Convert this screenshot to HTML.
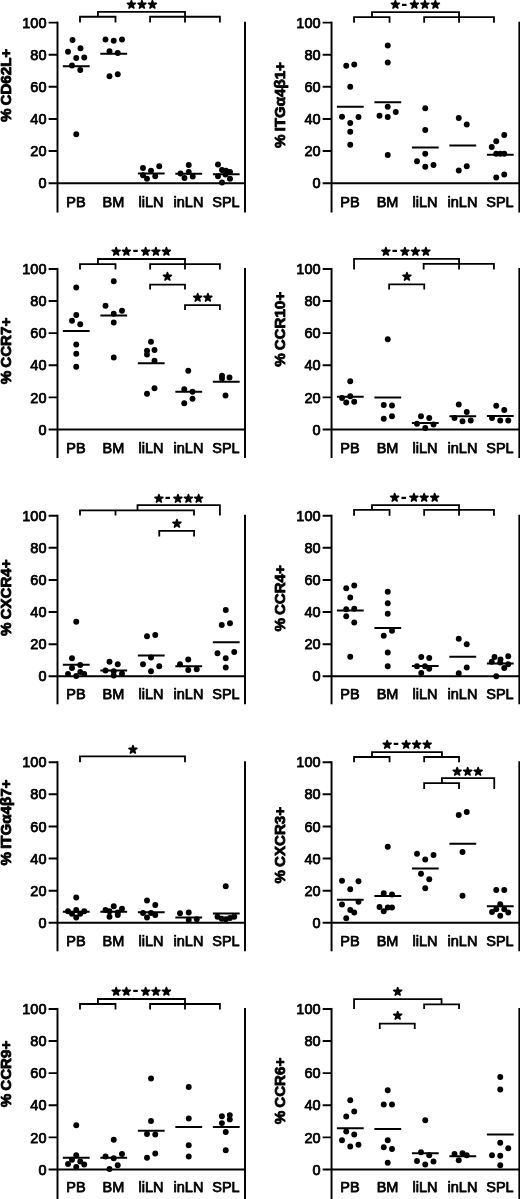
<!DOCTYPE html>
<html lang="en"><head><meta charset="utf-8"><title>Homing receptor expression</title>
<style>
html,body{margin:0;padding:0;background:#fff}
body{width:520px;height:1199px;overflow:hidden}
svg{display:block}
.st{font-family:"DejaVu Sans",sans-serif;font-size:10.4px;stroke:#000;stroke-width:1.6px;stroke-linejoin:round}
.hy{font-family:"Liberation Sans",sans-serif;font-size:18px;font-weight:bold;stroke:none}
.t{stroke:#000;stroke-width:0.75px;stroke-linejoin:round}
.b{stroke:#000;stroke-width:0.85px;stroke-linejoin:round}
</style></head><body>
<svg width="520" height="1199" viewBox="0 0 520 1199">
<rect width="520" height="1199" fill="#fff"/>
<g font-family="'Liberation Sans', Arial, sans-serif" fill="#000">
<g stroke="#000" stroke-width="1.95" fill="none" stroke-linecap="butt">
<path d="M57.50 21.63V212.50"/>
<path d="M245.00 21.63V212.50"/>
<path d="M48.60 183.20H245.00"/>
<path d="M48.60 22.60H57.50M48.60 54.72H57.50M48.60 86.84H57.50M48.60 118.96H57.50M48.60 151.08H57.50"/>
</g>
<text x="46.50" y="27.75" class="t" font-size="14.5" text-anchor="end">100</text>
<text x="46.50" y="59.87" class="t" font-size="14.5" text-anchor="end">80</text>
<text x="46.50" y="91.99" class="t" font-size="14.5" text-anchor="end">60</text>
<text x="46.50" y="124.11" class="t" font-size="14.5" text-anchor="end">40</text>
<text x="46.50" y="156.23" class="t" font-size="14.5" text-anchor="end">20</text>
<text x="46.50" y="188.35" class="t" font-size="14.5" text-anchor="end">0</text>
<text x="75.95" y="207.00" class="t" font-size="14.5" text-anchor="middle">PB</text>
<text x="113.45" y="207.00" class="t" font-size="14.5" text-anchor="middle">BM</text>
<text x="150.95" y="207.00" class="t" font-size="14.5" text-anchor="middle">liLN</text>
<text x="188.45" y="207.00" class="t" font-size="14.5" text-anchor="middle">inLN</text>
<text x="225.95" y="207.00" class="t" font-size="14.5" text-anchor="middle">SPL</text>
<text transform="translate(11.20 85.40) rotate(-90)" class="b" font-size="15.1" font-weight="bold" word-spacing="-1.1" text-anchor="middle">% CD62L+</text>
<path d="M62.85 66.25h26.8M100.35 53.75h26.8M137.85 173.50h26.8M175.35 173.75h26.8M212.85 174.25h26.8" stroke="#000" stroke-width="1.95" fill="none"/>
<circle cx="72.50" cy="40.00" r="2.95"/>
<circle cx="80.50" cy="48.25" r="2.95"/>
<circle cx="68.00" cy="51.75" r="2.95"/>
<circle cx="76.25" cy="58.00" r="2.95"/>
<circle cx="84.25" cy="57.50" r="2.95"/>
<circle cx="72.00" cy="65.50" r="2.95"/>
<circle cx="80.25" cy="70.00" r="2.95"/>
<circle cx="76.25" cy="134.25" r="2.95"/>
<circle cx="105.50" cy="39.50" r="2.95"/>
<circle cx="113.75" cy="40.75" r="2.95"/>
<circle cx="122.00" cy="39.50" r="2.95"/>
<circle cx="109.50" cy="51.25" r="2.95"/>
<circle cx="117.75" cy="53.00" r="2.95"/>
<circle cx="109.50" cy="76.25" r="2.95"/>
<circle cx="117.75" cy="74.25" r="2.95"/>
<circle cx="143.00" cy="168.00" r="2.95"/>
<circle cx="159.25" cy="166.25" r="2.95"/>
<circle cx="151.00" cy="170.75" r="2.95"/>
<circle cx="143.00" cy="175.25" r="2.95"/>
<circle cx="155.25" cy="176.25" r="2.95"/>
<circle cx="147.00" cy="178.75" r="2.95"/>
<circle cx="188.75" cy="165.00" r="2.95"/>
<circle cx="180.50" cy="173.50" r="2.95"/>
<circle cx="192.75" cy="176.50" r="2.95"/>
<circle cx="184.50" cy="178.00" r="2.95"/>
<circle cx="188.75" cy="172.00" r="2.95"/>
<circle cx="218.00" cy="164.50" r="2.95"/>
<circle cx="222.00" cy="170.00" r="2.95"/>
<circle cx="226.00" cy="170.75" r="2.95"/>
<circle cx="230.00" cy="172.00" r="2.95"/>
<circle cx="218.00" cy="176.25" r="2.95"/>
<circle cx="230.00" cy="178.75" r="2.95"/>
<circle cx="222.00" cy="182.50" r="2.95"/>
<circle cx="225.50" cy="174.50" r="2.95"/>
<path d="M80.00 22.50L80.00 16.75L115.50 16.75L115.50 22.50M150.10 22.50L150.10 16.75L219.90 16.75L219.90 22.50M97.95 16.75L97.95 11.80L185.00 11.80L185.00 22.50" stroke="#000" stroke-width="1.8" fill="none" stroke-linejoin="miter" stroke-linecap="butt"/>
<text class="st"><tspan x="126.77" y="8.30">★</tspan><tspan x="137.22" y="8.30">★</tspan><tspan x="147.67" y="8.30">★</tspan></text>
<g stroke="#000" stroke-width="1.95" fill="none" stroke-linecap="butt">
<path d="M331.55 21.63V212.50"/>
<path d="M519.35 21.63V212.50"/>
<path d="M322.65 183.20H519.35"/>
<path d="M322.65 22.60H331.55M322.65 54.72H331.55M322.65 86.84H331.55M322.65 118.96H331.55M322.65 151.08H331.55"/>
</g>
<text x="320.55" y="27.75" class="t" font-size="14.5" text-anchor="end">100</text>
<text x="320.55" y="59.87" class="t" font-size="14.5" text-anchor="end">80</text>
<text x="320.55" y="91.99" class="t" font-size="14.5" text-anchor="end">60</text>
<text x="320.55" y="124.11" class="t" font-size="14.5" text-anchor="end">40</text>
<text x="320.55" y="156.23" class="t" font-size="14.5" text-anchor="end">20</text>
<text x="320.55" y="188.35" class="t" font-size="14.5" text-anchor="end">0</text>
<text x="350.00" y="207.00" class="t" font-size="14.5" text-anchor="middle">PB</text>
<text x="387.50" y="207.00" class="t" font-size="14.5" text-anchor="middle">BM</text>
<text x="425.00" y="207.00" class="t" font-size="14.5" text-anchor="middle">liLN</text>
<text x="462.50" y="207.00" class="t" font-size="14.5" text-anchor="middle">inLN</text>
<text x="500.00" y="207.00" class="t" font-size="14.5" text-anchor="middle">SPL</text>
<text transform="translate(284.65 105.00) rotate(-90)" class="b" font-size="15.1" font-weight="bold" word-spacing="-1.1" text-anchor="middle">% ITGα4β1+</text>
<path d="M336.90 106.75h26.8M374.40 102.25h26.8M411.90 147.50h26.8M449.40 145.50h26.8M486.90 154.75h26.8" stroke="#000" stroke-width="1.95" fill="none"/>
<circle cx="346.25" cy="65.75" r="2.95"/>
<circle cx="354.25" cy="64.50" r="2.95"/>
<circle cx="350.25" cy="86.75" r="2.95"/>
<circle cx="342.00" cy="116.75" r="2.95"/>
<circle cx="358.50" cy="117.00" r="2.95"/>
<circle cx="350.25" cy="123.00" r="2.95"/>
<circle cx="350.25" cy="131.75" r="2.95"/>
<circle cx="350.25" cy="144.75" r="2.95"/>
<circle cx="387.75" cy="45.50" r="2.95"/>
<circle cx="387.75" cy="62.50" r="2.95"/>
<circle cx="387.75" cy="106.75" r="2.95"/>
<circle cx="379.50" cy="115.75" r="2.95"/>
<circle cx="387.75" cy="117.00" r="2.95"/>
<circle cx="395.75" cy="112.00" r="2.95"/>
<circle cx="387.75" cy="155.00" r="2.95"/>
<circle cx="425.25" cy="108.25" r="2.95"/>
<circle cx="425.25" cy="130.00" r="2.95"/>
<circle cx="425.25" cy="153.75" r="2.95"/>
<circle cx="417.00" cy="161.25" r="2.95"/>
<circle cx="425.25" cy="166.75" r="2.95"/>
<circle cx="433.50" cy="165.00" r="2.95"/>
<circle cx="458.75" cy="118.00" r="2.95"/>
<circle cx="466.75" cy="124.50" r="2.95"/>
<circle cx="458.75" cy="170.50" r="2.95"/>
<circle cx="466.75" cy="166.25" r="2.95"/>
<circle cx="504.25" cy="135.00" r="2.95"/>
<circle cx="496.25" cy="141.25" r="2.95"/>
<circle cx="491.75" cy="147.00" r="2.95"/>
<circle cx="496.25" cy="153.75" r="2.95"/>
<circle cx="500.25" cy="153.75" r="2.95"/>
<circle cx="504.25" cy="153.75" r="2.95"/>
<circle cx="496.25" cy="177.50" r="2.95"/>
<circle cx="504.25" cy="174.50" r="2.95"/>
<path d="M354.05 22.75L354.05 17.10L389.55 17.10L389.55 22.75M424.15 22.75L424.15 17.10L493.95 17.10L493.95 22.75M372.00 17.10L372.00 12.20L459.05 12.20L459.05 22.75" stroke="#000" stroke-width="1.8" fill="none" stroke-linejoin="miter" stroke-linecap="butt"/>
<text class="st"><tspan x="390.69" y="8.30">★</tspan><tspan class="hy" x="401.30" y="9.50">-</tspan><tspan x="409.75" y="8.30">★</tspan><tspan x="420.19" y="8.30">★</tspan><tspan x="430.64" y="8.30">★</tspan></text>
<g stroke="#000" stroke-width="1.95" fill="none" stroke-linecap="butt">
<path d="M57.50 267.93V458.00"/>
<path d="M245.00 267.93V458.00"/>
<path d="M48.60 429.50H245.00"/>
<path d="M48.60 268.90H57.50M48.60 301.02H57.50M48.60 333.14H57.50M48.60 365.26H57.50M48.60 397.38H57.50"/>
</g>
<text x="46.50" y="274.05" class="t" font-size="14.5" text-anchor="end">100</text>
<text x="46.50" y="306.17" class="t" font-size="14.5" text-anchor="end">80</text>
<text x="46.50" y="338.29" class="t" font-size="14.5" text-anchor="end">60</text>
<text x="46.50" y="370.41" class="t" font-size="14.5" text-anchor="end">40</text>
<text x="46.50" y="402.53" class="t" font-size="14.5" text-anchor="end">20</text>
<text x="46.50" y="434.65" class="t" font-size="14.5" text-anchor="end">0</text>
<text x="75.95" y="452.60" class="t" font-size="14.5" text-anchor="middle">PB</text>
<text x="113.45" y="452.60" class="t" font-size="14.5" text-anchor="middle">BM</text>
<text x="150.95" y="452.60" class="t" font-size="14.5" text-anchor="middle">liLN</text>
<text x="188.45" y="452.60" class="t" font-size="14.5" text-anchor="middle">inLN</text>
<text x="225.95" y="452.60" class="t" font-size="14.5" text-anchor="middle">SPL</text>
<text transform="translate(11.20 351.00) rotate(-90)" class="b" font-size="15.1" font-weight="bold" word-spacing="-1.1" text-anchor="middle">% CCR7+</text>
<path d="M62.85 331.00h26.8M100.35 315.50h26.8M137.85 363.25h26.8M175.35 391.75h26.8M212.85 381.75h26.8" stroke="#000" stroke-width="1.95" fill="none"/>
<circle cx="76.25" cy="287.50" r="2.95"/>
<circle cx="76.25" cy="315.00" r="2.95"/>
<circle cx="72.00" cy="320.75" r="2.95"/>
<circle cx="80.25" cy="324.25" r="2.95"/>
<circle cx="76.25" cy="344.50" r="2.95"/>
<circle cx="76.25" cy="353.75" r="2.95"/>
<circle cx="76.25" cy="366.75" r="2.95"/>
<circle cx="113.75" cy="281.25" r="2.95"/>
<circle cx="105.50" cy="305.75" r="2.95"/>
<circle cx="122.00" cy="310.75" r="2.95"/>
<circle cx="113.75" cy="313.75" r="2.95"/>
<circle cx="113.75" cy="322.50" r="2.95"/>
<circle cx="113.75" cy="357.50" r="2.95"/>
<circle cx="151.00" cy="341.75" r="2.95"/>
<circle cx="147.00" cy="350.75" r="2.95"/>
<circle cx="154.50" cy="350.00" r="2.95"/>
<circle cx="147.00" cy="354.50" r="2.95"/>
<circle cx="154.50" cy="360.75" r="2.95"/>
<circle cx="154.50" cy="388.25" r="2.95"/>
<circle cx="147.00" cy="393.75" r="2.95"/>
<circle cx="188.25" cy="370.75" r="2.95"/>
<circle cx="184.25" cy="389.25" r="2.95"/>
<circle cx="192.50" cy="391.75" r="2.95"/>
<circle cx="192.50" cy="398.75" r="2.95"/>
<circle cx="184.25" cy="403.25" r="2.95"/>
<circle cx="222.00" cy="375.75" r="2.95"/>
<circle cx="229.50" cy="377.50" r="2.95"/>
<circle cx="222.00" cy="378.50" r="2.95"/>
<circle cx="225.50" cy="395.50" r="2.95"/>
<path d="M80.00 269.40L80.00 264.10L115.50 264.10L115.50 269.40M150.10 269.40L150.10 264.10L219.90 264.10L219.90 269.40M97.95 264.10L97.95 259.00L185.00 259.00L185.00 269.40M150.10 289.50L150.10 284.60L185.00 284.60L185.00 289.50M185.00 310.10L185.00 305.10L219.90 305.10L219.90 310.10" stroke="#000" stroke-width="1.8" fill="none" stroke-linejoin="miter" stroke-linecap="butt"/>
<text class="st"><tspan x="111.42" y="254.60">★</tspan><tspan x="121.87" y="254.60">★</tspan><tspan class="hy" x="132.48" y="255.80">-</tspan><tspan x="140.92" y="254.60">★</tspan><tspan x="151.37" y="254.60">★</tspan><tspan x="161.82" y="254.60">★</tspan></text>
<text class="st"><tspan x="162.82" y="280.00">★</tspan></text>
<text class="st"><tspan x="192.90" y="300.80">★</tspan><tspan x="203.35" y="300.80">★</tspan></text>
<g stroke="#000" stroke-width="1.95" fill="none" stroke-linecap="butt">
<path d="M331.55 267.93V458.00"/>
<path d="M519.35 267.93V458.00"/>
<path d="M322.65 429.50H519.35"/>
<path d="M322.65 268.90H331.55M322.65 301.02H331.55M322.65 333.14H331.55M322.65 365.26H331.55M322.65 397.38H331.55"/>
</g>
<text x="320.55" y="274.05" class="t" font-size="14.5" text-anchor="end">100</text>
<text x="320.55" y="306.17" class="t" font-size="14.5" text-anchor="end">80</text>
<text x="320.55" y="338.29" class="t" font-size="14.5" text-anchor="end">60</text>
<text x="320.55" y="370.41" class="t" font-size="14.5" text-anchor="end">40</text>
<text x="320.55" y="402.53" class="t" font-size="14.5" text-anchor="end">20</text>
<text x="320.55" y="434.65" class="t" font-size="14.5" text-anchor="end">0</text>
<text x="350.00" y="452.60" class="t" font-size="14.5" text-anchor="middle">PB</text>
<text x="387.50" y="452.60" class="t" font-size="14.5" text-anchor="middle">BM</text>
<text x="425.00" y="452.60" class="t" font-size="14.5" text-anchor="middle">liLN</text>
<text x="462.50" y="452.60" class="t" font-size="14.5" text-anchor="middle">inLN</text>
<text x="500.00" y="452.60" class="t" font-size="14.5" text-anchor="middle">SPL</text>
<text transform="translate(284.65 329.40) rotate(-90)" class="b" font-size="15.1" font-weight="bold" word-spacing="-1.1" text-anchor="middle">% CCR10+</text>
<path d="M336.90 396.75h26.8M374.40 397.50h26.8M411.90 423.00h26.8M449.40 416.25h26.8M486.90 416.00h26.8" stroke="#000" stroke-width="1.95" fill="none"/>
<circle cx="350.25" cy="381.25" r="2.95"/>
<circle cx="350.25" cy="396.25" r="2.95"/>
<circle cx="342.00" cy="398.00" r="2.95"/>
<circle cx="354.25" cy="401.75" r="2.95"/>
<circle cx="346.25" cy="402.50" r="2.95"/>
<circle cx="387.75" cy="339.25" r="2.95"/>
<circle cx="383.75" cy="405.00" r="2.95"/>
<circle cx="392.00" cy="405.50" r="2.95"/>
<circle cx="392.00" cy="416.25" r="2.95"/>
<circle cx="383.75" cy="418.75" r="2.95"/>
<circle cx="421.00" cy="416.25" r="2.95"/>
<circle cx="429.25" cy="418.00" r="2.95"/>
<circle cx="417.00" cy="423.75" r="2.95"/>
<circle cx="433.50" cy="424.50" r="2.95"/>
<circle cx="425.25" cy="428.00" r="2.95"/>
<circle cx="458.75" cy="404.50" r="2.95"/>
<circle cx="466.75" cy="412.00" r="2.95"/>
<circle cx="454.50" cy="418.00" r="2.95"/>
<circle cx="462.50" cy="421.25" r="2.95"/>
<circle cx="470.75" cy="420.50" r="2.95"/>
<circle cx="496.25" cy="405.75" r="2.95"/>
<circle cx="504.25" cy="410.00" r="2.95"/>
<circle cx="492.00" cy="418.00" r="2.95"/>
<circle cx="500.25" cy="420.50" r="2.95"/>
<circle cx="508.25" cy="420.50" r="2.95"/>
<path d="M354.05 269.40L354.05 258.80L459.05 258.80L459.05 269.40M423.65 269.40L423.65 263.80L493.95 263.80L493.95 269.40M389.15 289.50L389.15 284.40L424.25 284.40L424.25 289.50" stroke="#000" stroke-width="1.8" fill="none" stroke-linejoin="miter" stroke-linecap="butt"/>
<text class="st"><tspan x="381.19" y="254.60">★</tspan><tspan class="hy" x="391.80" y="255.80">-</tspan><tspan x="400.25" y="254.60">★</tspan><tspan x="410.69" y="254.60">★</tspan><tspan x="421.14" y="254.60">★</tspan></text>
<text class="st"><tspan x="402.27" y="280.00">★</tspan></text>
<g stroke="#000" stroke-width="1.95" fill="none" stroke-linecap="butt">
<path d="M57.50 514.73V704.30"/>
<path d="M245.00 514.73V704.30"/>
<path d="M48.60 676.30H245.00"/>
<path d="M48.60 515.70H57.50M48.60 547.82H57.50M48.60 579.94H57.50M48.60 612.06H57.50M48.60 644.18H57.50"/>
</g>
<text x="46.50" y="520.85" class="t" font-size="14.5" text-anchor="end">100</text>
<text x="46.50" y="552.97" class="t" font-size="14.5" text-anchor="end">80</text>
<text x="46.50" y="585.09" class="t" font-size="14.5" text-anchor="end">60</text>
<text x="46.50" y="617.21" class="t" font-size="14.5" text-anchor="end">40</text>
<text x="46.50" y="649.33" class="t" font-size="14.5" text-anchor="end">20</text>
<text x="46.50" y="681.45" class="t" font-size="14.5" text-anchor="end">0</text>
<text x="75.95" y="699.40" class="t" font-size="14.5" text-anchor="middle">PB</text>
<text x="113.45" y="699.40" class="t" font-size="14.5" text-anchor="middle">BM</text>
<text x="150.95" y="699.40" class="t" font-size="14.5" text-anchor="middle">liLN</text>
<text x="188.45" y="699.40" class="t" font-size="14.5" text-anchor="middle">inLN</text>
<text x="225.95" y="699.40" class="t" font-size="14.5" text-anchor="middle">SPL</text>
<text transform="translate(11.20 597.75) rotate(-90)" class="b" font-size="15.1" font-weight="bold" word-spacing="-1.1" text-anchor="middle">% CXCR4+</text>
<path d="M62.85 664.75h26.8M100.35 670.50h26.8M137.85 655.50h26.8M175.35 666.25h26.8M212.85 642.25h26.8" stroke="#000" stroke-width="1.95" fill="none"/>
<circle cx="76.25" cy="621.75" r="2.95"/>
<circle cx="72.00" cy="658.25" r="2.95"/>
<circle cx="80.25" cy="665.00" r="2.95"/>
<circle cx="72.00" cy="668.00" r="2.95"/>
<circle cx="68.00" cy="674.00" r="2.95"/>
<circle cx="76.25" cy="676.00" r="2.95"/>
<circle cx="84.25" cy="674.00" r="2.95"/>
<circle cx="80.25" cy="672.00" r="2.95"/>
<circle cx="109.50" cy="661.75" r="2.95"/>
<circle cx="117.75" cy="664.25" r="2.95"/>
<circle cx="105.50" cy="670.50" r="2.95"/>
<circle cx="113.75" cy="671.25" r="2.95"/>
<circle cx="122.00" cy="673.75" r="2.95"/>
<circle cx="113.75" cy="675.50" r="2.95"/>
<circle cx="147.00" cy="636.25" r="2.95"/>
<circle cx="155.25" cy="635.00" r="2.95"/>
<circle cx="151.00" cy="657.50" r="2.95"/>
<circle cx="143.00" cy="664.25" r="2.95"/>
<circle cx="159.25" cy="666.25" r="2.95"/>
<circle cx="151.00" cy="671.25" r="2.95"/>
<circle cx="180.00" cy="664.25" r="2.95"/>
<circle cx="188.25" cy="659.50" r="2.95"/>
<circle cx="188.25" cy="670.00" r="2.95"/>
<circle cx="196.75" cy="669.25" r="2.95"/>
<circle cx="225.75" cy="610.00" r="2.95"/>
<circle cx="221.75" cy="625.00" r="2.95"/>
<circle cx="230.00" cy="623.25" r="2.95"/>
<circle cx="217.50" cy="653.25" r="2.95"/>
<circle cx="234.25" cy="652.00" r="2.95"/>
<circle cx="225.75" cy="658.25" r="2.95"/>
<circle cx="225.75" cy="667.50" r="2.95"/>
<path d="M80.00 515.45L80.00 510.35L194.00 510.35L194.00 515.45M115.50 515.45L115.50 510.35M137.50 510.35L137.50 505.20L219.90 505.20L219.90 515.45M159.25 536.45L159.25 530.90L194.10 530.90L194.10 536.45" stroke="#000" stroke-width="1.8" fill="none" stroke-linejoin="miter" stroke-linecap="butt"/>
<text class="st"><tspan x="154.15" y="501.60">★</tspan><tspan class="hy" x="164.76" y="502.80">-</tspan><tspan x="173.20" y="501.60">★</tspan><tspan x="183.65" y="501.60">★</tspan><tspan x="194.09" y="501.60">★</tspan></text>
<text class="st"><tspan x="172.22" y="526.80">★</tspan></text>
<g stroke="#000" stroke-width="1.95" fill="none" stroke-linecap="butt">
<path d="M331.55 514.73V704.30"/>
<path d="M519.35 514.73V704.30"/>
<path d="M322.65 676.30H519.35"/>
<path d="M322.65 515.70H331.55M322.65 547.82H331.55M322.65 579.94H331.55M322.65 612.06H331.55M322.65 644.18H331.55"/>
</g>
<text x="320.55" y="520.85" class="t" font-size="14.5" text-anchor="end">100</text>
<text x="320.55" y="552.97" class="t" font-size="14.5" text-anchor="end">80</text>
<text x="320.55" y="585.09" class="t" font-size="14.5" text-anchor="end">60</text>
<text x="320.55" y="617.21" class="t" font-size="14.5" text-anchor="end">40</text>
<text x="320.55" y="649.33" class="t" font-size="14.5" text-anchor="end">20</text>
<text x="320.55" y="681.45" class="t" font-size="14.5" text-anchor="end">0</text>
<text x="350.00" y="699.40" class="t" font-size="14.5" text-anchor="middle">PB</text>
<text x="387.50" y="699.40" class="t" font-size="14.5" text-anchor="middle">BM</text>
<text x="425.00" y="699.40" class="t" font-size="14.5" text-anchor="middle">liLN</text>
<text x="462.50" y="699.40" class="t" font-size="14.5" text-anchor="middle">inLN</text>
<text x="500.00" y="699.40" class="t" font-size="14.5" text-anchor="middle">SPL</text>
<text transform="translate(284.65 598.40) rotate(-90)" class="b" font-size="15.1" font-weight="bold" word-spacing="-1.1" text-anchor="middle">% CCR4+</text>
<path d="M336.90 610.50h26.8M374.40 628.00h26.8M411.90 666.00h26.8M449.40 656.75h26.8M486.90 663.50h26.8" stroke="#000" stroke-width="1.95" fill="none"/>
<circle cx="346.25" cy="588.25" r="2.95"/>
<circle cx="354.25" cy="585.50" r="2.95"/>
<circle cx="350.25" cy="597.50" r="2.95"/>
<circle cx="346.25" cy="609.25" r="2.95"/>
<circle cx="354.25" cy="608.75" r="2.95"/>
<circle cx="346.25" cy="616.25" r="2.95"/>
<circle cx="354.25" cy="622.50" r="2.95"/>
<circle cx="350.25" cy="656.75" r="2.95"/>
<circle cx="387.75" cy="591.75" r="2.95"/>
<circle cx="387.75" cy="603.25" r="2.95"/>
<circle cx="387.75" cy="613.75" r="2.95"/>
<circle cx="392.00" cy="630.75" r="2.95"/>
<circle cx="383.75" cy="635.75" r="2.95"/>
<circle cx="387.75" cy="652.50" r="2.95"/>
<circle cx="387.75" cy="666.25" r="2.95"/>
<circle cx="421.25" cy="657.00" r="2.95"/>
<circle cx="429.25" cy="658.00" r="2.95"/>
<circle cx="417.00" cy="666.25" r="2.95"/>
<circle cx="429.25" cy="668.75" r="2.95"/>
<circle cx="421.25" cy="673.00" r="2.95"/>
<circle cx="425.00" cy="666.25" r="2.95"/>
<circle cx="458.75" cy="638.75" r="2.95"/>
<circle cx="466.75" cy="644.25" r="2.95"/>
<circle cx="466.75" cy="667.50" r="2.95"/>
<circle cx="458.75" cy="673.25" r="2.95"/>
<circle cx="494.50" cy="657.00" r="2.95"/>
<circle cx="508.25" cy="656.25" r="2.95"/>
<circle cx="491.75" cy="661.75" r="2.95"/>
<circle cx="500.25" cy="662.50" r="2.95"/>
<circle cx="508.25" cy="664.25" r="2.95"/>
<circle cx="504.25" cy="668.00" r="2.95"/>
<circle cx="496.25" cy="676.25" r="2.95"/>
<circle cx="500.50" cy="659.50" r="2.95"/>
<path d="M354.05 515.70L354.05 509.95L389.55 509.95L389.55 515.70M424.15 515.70L424.15 509.95L493.95 509.95L493.95 515.70M372.00 509.95L372.00 505.10L459.05 505.10L459.05 515.70" stroke="#000" stroke-width="1.8" fill="none" stroke-linejoin="miter" stroke-linecap="butt"/>
<text class="st"><tspan x="390.09" y="501.40">★</tspan><tspan class="hy" x="400.70" y="502.60">-</tspan><tspan x="409.14" y="501.40">★</tspan><tspan x="419.59" y="501.40">★</tspan><tspan x="430.04" y="501.40">★</tspan></text>
<g stroke="#000" stroke-width="1.95" fill="none" stroke-linecap="butt">
<path d="M57.50 761.23V951.30"/>
<path d="M245.00 761.23V951.30"/>
<path d="M48.60 922.80H245.00"/>
<path d="M48.60 762.20H57.50M48.60 794.32H57.50M48.60 826.44H57.50M48.60 858.56H57.50M48.60 890.68H57.50"/>
</g>
<text x="46.50" y="767.35" class="t" font-size="14.5" text-anchor="end">100</text>
<text x="46.50" y="799.47" class="t" font-size="14.5" text-anchor="end">80</text>
<text x="46.50" y="831.59" class="t" font-size="14.5" text-anchor="end">60</text>
<text x="46.50" y="863.71" class="t" font-size="14.5" text-anchor="end">40</text>
<text x="46.50" y="895.83" class="t" font-size="14.5" text-anchor="end">20</text>
<text x="46.50" y="927.95" class="t" font-size="14.5" text-anchor="end">0</text>
<text x="75.95" y="945.90" class="t" font-size="14.5" text-anchor="middle">PB</text>
<text x="113.45" y="945.90" class="t" font-size="14.5" text-anchor="middle">BM</text>
<text x="150.95" y="945.90" class="t" font-size="14.5" text-anchor="middle">liLN</text>
<text x="188.45" y="945.90" class="t" font-size="14.5" text-anchor="middle">inLN</text>
<text x="225.95" y="945.90" class="t" font-size="14.5" text-anchor="middle">SPL</text>
<text transform="translate(11.20 822.50) rotate(-90)" class="b" font-size="15.1" font-weight="bold" word-spacing="-1.1" text-anchor="middle">% ITGα4β7+</text>
<path d="M62.85 911.75h26.8M100.35 911.75h26.8M137.85 912.25h26.8M175.35 917.50h26.8M212.85 913.50h26.8" stroke="#000" stroke-width="1.95" fill="none"/>
<circle cx="76.25" cy="897.50" r="2.95"/>
<circle cx="68.00" cy="911.25" r="2.95"/>
<circle cx="76.25" cy="910.00" r="2.95"/>
<circle cx="84.25" cy="911.25" r="2.95"/>
<circle cx="72.00" cy="913.75" r="2.95"/>
<circle cx="80.25" cy="913.75" r="2.95"/>
<circle cx="76.25" cy="917.50" r="2.95"/>
<circle cx="113.75" cy="906.25" r="2.95"/>
<circle cx="105.50" cy="910.00" r="2.95"/>
<circle cx="122.00" cy="908.75" r="2.95"/>
<circle cx="109.50" cy="911.25" r="2.95"/>
<circle cx="117.75" cy="912.50" r="2.95"/>
<circle cx="109.50" cy="916.75" r="2.95"/>
<circle cx="117.75" cy="915.00" r="2.95"/>
<circle cx="147.00" cy="900.50" r="2.95"/>
<circle cx="155.25" cy="905.00" r="2.95"/>
<circle cx="143.00" cy="913.00" r="2.95"/>
<circle cx="151.00" cy="913.00" r="2.95"/>
<circle cx="155.25" cy="915.00" r="2.95"/>
<circle cx="147.00" cy="917.50" r="2.95"/>
<circle cx="180.00" cy="913.25" r="2.95"/>
<circle cx="188.75" cy="912.50" r="2.95"/>
<circle cx="188.75" cy="920.00" r="2.95"/>
<circle cx="196.75" cy="919.25" r="2.95"/>
<circle cx="225.75" cy="886.25" r="2.95"/>
<circle cx="217.50" cy="916.75" r="2.95"/>
<circle cx="221.75" cy="918.75" r="2.95"/>
<circle cx="225.75" cy="919.25" r="2.95"/>
<circle cx="230.00" cy="918.00" r="2.95"/>
<circle cx="234.25" cy="916.75" r="2.95"/>
<path d="M80.00 762.20L80.00 756.30L185.00 756.30L185.00 762.20" stroke="#000" stroke-width="1.8" fill="none" stroke-linejoin="miter" stroke-linecap="butt"/>
<text class="st"><tspan x="128.32" y="752.80">★</tspan></text>
<g stroke="#000" stroke-width="1.95" fill="none" stroke-linecap="butt">
<path d="M331.55 761.23V951.30"/>
<path d="M519.35 761.23V951.30"/>
<path d="M322.65 922.80H519.35"/>
<path d="M322.65 762.20H331.55M322.65 794.32H331.55M322.65 826.44H331.55M322.65 858.56H331.55M322.65 890.68H331.55"/>
</g>
<text x="320.55" y="767.35" class="t" font-size="14.5" text-anchor="end">100</text>
<text x="320.55" y="799.47" class="t" font-size="14.5" text-anchor="end">80</text>
<text x="320.55" y="831.59" class="t" font-size="14.5" text-anchor="end">60</text>
<text x="320.55" y="863.71" class="t" font-size="14.5" text-anchor="end">40</text>
<text x="320.55" y="895.83" class="t" font-size="14.5" text-anchor="end">20</text>
<text x="320.55" y="927.95" class="t" font-size="14.5" text-anchor="end">0</text>
<text x="350.00" y="945.90" class="t" font-size="14.5" text-anchor="middle">PB</text>
<text x="387.50" y="945.90" class="t" font-size="14.5" text-anchor="middle">BM</text>
<text x="425.00" y="945.90" class="t" font-size="14.5" text-anchor="middle">liLN</text>
<text x="462.50" y="945.90" class="t" font-size="14.5" text-anchor="middle">inLN</text>
<text x="500.00" y="945.90" class="t" font-size="14.5" text-anchor="middle">SPL</text>
<text transform="translate(284.65 845.25) rotate(-90)" class="b" font-size="15.1" font-weight="bold" word-spacing="-1.1" text-anchor="middle">% CXCR3+</text>
<path d="M336.90 899.75h26.8M374.40 896.00h26.8M411.90 868.50h26.8M449.40 843.75h26.8M486.90 906.25h26.8" stroke="#000" stroke-width="1.95" fill="none"/>
<circle cx="342.00" cy="880.75" r="2.95"/>
<circle cx="358.50" cy="881.25" r="2.95"/>
<circle cx="350.25" cy="889.25" r="2.95"/>
<circle cx="358.50" cy="901.75" r="2.95"/>
<circle cx="342.00" cy="904.50" r="2.95"/>
<circle cx="350.25" cy="910.00" r="2.95"/>
<circle cx="354.25" cy="912.50" r="2.95"/>
<circle cx="346.25" cy="918.25" r="2.95"/>
<circle cx="387.75" cy="846.75" r="2.95"/>
<circle cx="383.75" cy="893.25" r="2.95"/>
<circle cx="392.00" cy="894.50" r="2.95"/>
<circle cx="379.50" cy="907.00" r="2.95"/>
<circle cx="387.75" cy="907.50" r="2.95"/>
<circle cx="392.00" cy="907.50" r="2.95"/>
<circle cx="383.75" cy="911.25" r="2.95"/>
<circle cx="417.00" cy="853.75" r="2.95"/>
<circle cx="433.50" cy="855.00" r="2.95"/>
<circle cx="425.25" cy="859.50" r="2.95"/>
<circle cx="421.00" cy="873.75" r="2.95"/>
<circle cx="429.25" cy="879.25" r="2.95"/>
<circle cx="425.25" cy="888.25" r="2.95"/>
<circle cx="458.75" cy="815.00" r="2.95"/>
<circle cx="466.75" cy="812.00" r="2.95"/>
<circle cx="462.50" cy="852.00" r="2.95"/>
<circle cx="462.50" cy="895.75" r="2.95"/>
<circle cx="496.25" cy="890.00" r="2.95"/>
<circle cx="504.25" cy="890.00" r="2.95"/>
<circle cx="500.25" cy="904.25" r="2.95"/>
<circle cx="496.25" cy="909.25" r="2.95"/>
<circle cx="504.25" cy="909.25" r="2.95"/>
<circle cx="492.00" cy="912.00" r="2.95"/>
<circle cx="508.25" cy="912.50" r="2.95"/>
<circle cx="500.25" cy="915.75" r="2.95"/>
<path d="M354.05 762.35L354.05 757.00L389.55 757.00L389.55 762.35M424.15 762.35L424.15 757.00L459.05 757.00L459.05 762.35M372.00 757.00L372.00 752.20L441.95 752.20L441.95 757.00M424.15 788.90L424.15 783.20L459.05 783.20L459.05 788.90M441.95 783.20L441.95 778.20L494.25 778.20L494.25 788.90" stroke="#000" stroke-width="1.8" fill="none" stroke-linejoin="miter" stroke-linecap="butt"/>
<text class="st"><tspan x="382.49" y="747.70">★</tspan><tspan class="hy" x="393.10" y="748.90">-</tspan><tspan x="401.54" y="747.70">★</tspan><tspan x="411.99" y="747.70">★</tspan><tspan x="422.44" y="747.70">★</tspan></text>
<text class="st"><tspan x="452.62" y="774.70">★</tspan><tspan x="463.07" y="774.70">★</tspan><tspan x="473.52" y="774.70">★</tspan></text>
<g stroke="#000" stroke-width="1.95" fill="none" stroke-linecap="butt">
<path d="M57.50 1007.93V1199.00"/>
<path d="M245.00 1007.93V1199.00"/>
<path d="M48.60 1169.50H245.00"/>
<path d="M48.60 1008.90H57.50M48.60 1041.02H57.50M48.60 1073.14H57.50M48.60 1105.26H57.50M48.60 1137.38H57.50"/>
</g>
<text x="46.50" y="1014.05" class="t" font-size="14.5" text-anchor="end">100</text>
<text x="46.50" y="1046.17" class="t" font-size="14.5" text-anchor="end">80</text>
<text x="46.50" y="1078.29" class="t" font-size="14.5" text-anchor="end">60</text>
<text x="46.50" y="1110.41" class="t" font-size="14.5" text-anchor="end">40</text>
<text x="46.50" y="1142.53" class="t" font-size="14.5" text-anchor="end">20</text>
<text x="46.50" y="1174.65" class="t" font-size="14.5" text-anchor="end">0</text>
<text x="75.95" y="1191.70" class="t" font-size="14.5" text-anchor="middle">PB</text>
<text x="113.45" y="1191.70" class="t" font-size="14.5" text-anchor="middle">BM</text>
<text x="150.95" y="1191.70" class="t" font-size="14.5" text-anchor="middle">liLN</text>
<text x="188.45" y="1191.70" class="t" font-size="14.5" text-anchor="middle">inLN</text>
<text x="225.95" y="1191.70" class="t" font-size="14.5" text-anchor="middle">SPL</text>
<text transform="translate(11.20 1074.00) rotate(-90)" class="b" font-size="15.1" font-weight="bold" word-spacing="-1.1" text-anchor="middle">% CCR9+</text>
<path d="M62.85 1157.75h26.8M100.35 1157.75h26.8M137.85 1130.75h26.8M175.35 1127.00h26.8M212.85 1127.00h26.8" stroke="#000" stroke-width="1.95" fill="none"/>
<circle cx="76.25" cy="1125.25" r="2.95"/>
<circle cx="76.25" cy="1155.25" r="2.95"/>
<circle cx="72.00" cy="1159.75" r="2.95"/>
<circle cx="80.25" cy="1161.50" r="2.95"/>
<circle cx="68.00" cy="1164.00" r="2.95"/>
<circle cx="84.25" cy="1164.50" r="2.95"/>
<circle cx="76.25" cy="1167.00" r="2.95"/>
<circle cx="113.75" cy="1139.75" r="2.95"/>
<circle cx="122.00" cy="1154.00" r="2.95"/>
<circle cx="105.50" cy="1156.50" r="2.95"/>
<circle cx="113.75" cy="1158.25" r="2.95"/>
<circle cx="117.75" cy="1165.25" r="2.95"/>
<circle cx="109.50" cy="1169.00" r="2.95"/>
<circle cx="151.00" cy="1078.50" r="2.95"/>
<circle cx="151.00" cy="1121.00" r="2.95"/>
<circle cx="147.00" cy="1134.00" r="2.95"/>
<circle cx="155.25" cy="1134.50" r="2.95"/>
<circle cx="155.25" cy="1153.50" r="2.95"/>
<circle cx="147.00" cy="1157.75" r="2.95"/>
<circle cx="188.75" cy="1087.00" r="2.95"/>
<circle cx="188.75" cy="1118.50" r="2.95"/>
<circle cx="188.75" cy="1145.25" r="2.95"/>
<circle cx="188.75" cy="1156.50" r="2.95"/>
<circle cx="221.90" cy="1116.20" r="2.95"/>
<circle cx="229.80" cy="1115.10" r="2.95"/>
<circle cx="221.90" cy="1123.10" r="2.95"/>
<circle cx="229.80" cy="1119.40" r="2.95"/>
<circle cx="225.75" cy="1132.00" r="2.95"/>
<circle cx="225.75" cy="1150.25" r="2.95"/>
<path d="M80.00 1009.40L80.00 1004.00L115.50 1004.00L115.50 1009.40M150.10 1009.40L150.10 1004.00L219.90 1004.00L219.90 1009.40M97.95 1004.00L97.95 999.00L185.00 999.00L185.00 1009.40" stroke="#000" stroke-width="1.8" fill="none" stroke-linejoin="miter" stroke-linecap="butt"/>
<text class="st"><tspan x="111.42" y="994.80">★</tspan><tspan x="121.87" y="994.80">★</tspan><tspan class="hy" x="132.48" y="996.00">-</tspan><tspan x="140.92" y="994.80">★</tspan><tspan x="151.37" y="994.80">★</tspan><tspan x="161.82" y="994.80">★</tspan></text>
<g stroke="#000" stroke-width="1.95" fill="none" stroke-linecap="butt">
<path d="M331.55 1007.93V1199.00"/>
<path d="M519.35 1007.93V1199.00"/>
<path d="M322.65 1169.50H519.35"/>
<path d="M322.65 1008.90H331.55M322.65 1041.02H331.55M322.65 1073.14H331.55M322.65 1105.26H331.55M322.65 1137.38H331.55"/>
</g>
<text x="320.55" y="1014.05" class="t" font-size="14.5" text-anchor="end">100</text>
<text x="320.55" y="1046.17" class="t" font-size="14.5" text-anchor="end">80</text>
<text x="320.55" y="1078.29" class="t" font-size="14.5" text-anchor="end">60</text>
<text x="320.55" y="1110.41" class="t" font-size="14.5" text-anchor="end">40</text>
<text x="320.55" y="1142.53" class="t" font-size="14.5" text-anchor="end">20</text>
<text x="320.55" y="1174.65" class="t" font-size="14.5" text-anchor="end">0</text>
<text x="350.00" y="1191.70" class="t" font-size="14.5" text-anchor="middle">PB</text>
<text x="387.50" y="1191.70" class="t" font-size="14.5" text-anchor="middle">BM</text>
<text x="425.00" y="1191.70" class="t" font-size="14.5" text-anchor="middle">liLN</text>
<text x="462.50" y="1191.70" class="t" font-size="14.5" text-anchor="middle">inLN</text>
<text x="500.00" y="1191.70" class="t" font-size="14.5" text-anchor="middle">SPL</text>
<text transform="translate(284.65 1091.00) rotate(-90)" class="b" font-size="15.1" font-weight="bold" word-spacing="-1.1" text-anchor="middle">% CCR6+</text>
<path d="M336.90 1128.25h26.8M374.40 1129.00h26.8M411.90 1153.25h26.8M449.40 1156.25h26.8M486.90 1134.50h26.8" stroke="#000" stroke-width="1.95" fill="none"/>
<circle cx="350.25" cy="1100.25" r="2.95"/>
<circle cx="354.25" cy="1111.50" r="2.95"/>
<circle cx="346.25" cy="1116.50" r="2.95"/>
<circle cx="346.25" cy="1131.50" r="2.95"/>
<circle cx="354.25" cy="1134.50" r="2.95"/>
<circle cx="342.00" cy="1140.25" r="2.95"/>
<circle cx="350.25" cy="1146.50" r="2.95"/>
<circle cx="358.50" cy="1144.75" r="2.95"/>
<circle cx="387.75" cy="1090.25" r="2.95"/>
<circle cx="383.75" cy="1104.50" r="2.95"/>
<circle cx="392.00" cy="1104.50" r="2.95"/>
<circle cx="387.75" cy="1140.25" r="2.95"/>
<circle cx="383.75" cy="1147.25" r="2.95"/>
<circle cx="392.00" cy="1149.00" r="2.95"/>
<circle cx="387.75" cy="1162.75" r="2.95"/>
<circle cx="425.25" cy="1120.25" r="2.95"/>
<circle cx="421.00" cy="1152.25" r="2.95"/>
<circle cx="429.25" cy="1155.25" r="2.95"/>
<circle cx="417.00" cy="1161.00" r="2.95"/>
<circle cx="433.50" cy="1161.50" r="2.95"/>
<circle cx="425.25" cy="1164.50" r="2.95"/>
<circle cx="454.50" cy="1154.00" r="2.95"/>
<circle cx="462.50" cy="1153.25" r="2.95"/>
<circle cx="466.75" cy="1155.25" r="2.95"/>
<circle cx="458.75" cy="1160.25" r="2.95"/>
<circle cx="500.25" cy="1077.00" r="2.95"/>
<circle cx="500.25" cy="1089.50" r="2.95"/>
<circle cx="500.25" cy="1142.75" r="2.95"/>
<circle cx="508.25" cy="1148.25" r="2.95"/>
<circle cx="492.00" cy="1155.25" r="2.95"/>
<circle cx="500.25" cy="1155.75" r="2.95"/>
<circle cx="500.25" cy="1165.25" r="2.95"/>
<path d="M354.05 1009.10L354.05 999.15L441.55 999.15L441.55 1004.30M424.15 1009.10L424.15 1004.30L459.05 1004.30L459.05 1009.10M379.75 1029.10L379.75 1023.70L414.75 1023.70L414.75 1029.10" stroke="#000" stroke-width="1.8" fill="none" stroke-linejoin="miter" stroke-linecap="butt"/>
<text class="st"><tspan x="392.97" y="994.80">★</tspan></text>
<text class="st"><tspan x="392.97" y="1019.10">★</tspan></text>
</g></svg>
</body></html>
